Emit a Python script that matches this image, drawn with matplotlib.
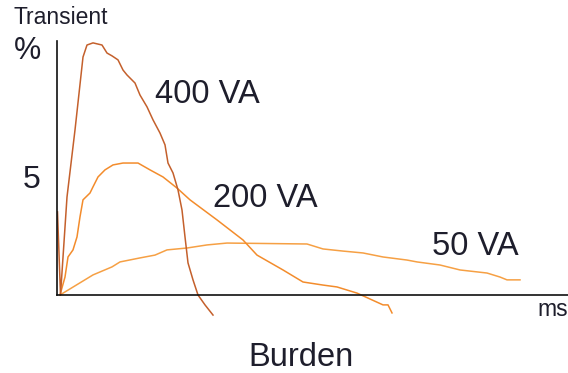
import matplotlib
matplotlib.use("Agg")
import matplotlib.pyplot as plt

plt.rcParams['font.family'] = ['Liberation Sans', 'DejaVu Sans']

# 400 VA curve (time in ms units, transient in %)
t400 = [-0.25, 0.05, 0.7, 1.5, 2.3, 2.7, 3.3, 4.2, 4.7, 5.2, 5.8, 6.3, 6.7, 7.5, 8.0, 8.7,
        9.3, 10.0, 10.5, 10.8, 11.3, 11.8, 12.2, 12.5, 12.8, 13.3, 13.8, 14.5, 15.3]
v400 = [3.52, 0.0, 4.15, 6.99, 10.08, 10.59, 10.68, 10.59, 10.25, 10.13, 9.96, 9.53, 9.32,
        8.98, 8.47, 7.97, 7.42, 6.86, 6.36, 5.59, 5.17, 4.45, 3.60, 2.46, 1.36, 0.64, 0.0,
        -0.42, -0.85]

# 200 VA curve
t200 = [0.0, 0.5, 0.8, 1.3, 1.7, 2.0, 2.3, 3.0, 3.3, 3.8, 4.5, 5.3, 6.3, 7.8, 9.0, 10.3,
        11.7, 13.0, 15.7, 18.3, 19.7, 22.3, 24.3, 26.3, 27.7, 29.7, 32.3, 32.8, 33.2]
v200 = [0.0, 0.76, 1.61, 1.91, 2.46, 3.31, 4.03, 4.32, 4.58, 5.0, 5.30, 5.51, 5.59, 5.59,
        5.30, 5.0, 4.53, 4.03, 3.18, 2.33, 1.69, 1.06, 0.55, 0.42, 0.34, 0.08, -0.42, -0.42,
        -0.76]

# 50 VA curve
t50 = [0.0, 3.3, 5.2, 6.0, 8.0, 9.5, 10.7, 12.7, 14.7, 16.7, 24.7, 26.3, 28.3, 30.3, 32.3,
       34.7, 35.7, 38.0, 40.0, 42.7, 44.0, 44.7, 46.0]
v50 = [0.0, 0.85, 1.19, 1.40, 1.57, 1.69, 1.91, 1.99, 2.12, 2.20, 2.16, 1.95, 1.86, 1.78,
       1.61, 1.48, 1.40, 1.27, 1.06, 0.93, 0.76, 0.64, 0.64]

labels = ["400 VA", "200 VA", "50 VA"]
y_ticks = [5]

fig = plt.figure(figsize=(5.68, 3.73), dpi=100)
ax = fig.add_axes([57/568, (373-320)/373, (568-57)/568, (320-41)/373])
ymax = 10.76
ax.set_xlim(-0.3, 50.8)
ax.set_ylim(-1.06, ymax)

ax.plot(t50, v50, color='#f6a044', lw=1.1, solid_joinstyle='round')
ax.plot(t200, v200, color='#f38c2c', lw=1.1, solid_joinstyle='round')
ax.plot(t400, v400, color='#c4602c', lw=1.1, solid_joinstyle='round')

for s in ['top', 'right']:
    ax.spines[s].set_visible(False)
ax.spines['bottom'].set_position(('data', 0))
ax.spines['left'].set_bounds(0, ymax)
ax.spines['left'].set_position(('data', -0.3))
for s in ['bottom', 'left']:
    ax.spines[s].set_linewidth(1.2)
    ax.spines[s].set_color('#111111')

txtc = '#1e1e2c'
ax.set_xticks([])
ax.set_yticks(y_ticks)
ax.set_yticklabels([str(v) for v in y_ticks], fontsize=23, color=txtc)
ax.tick_params(axis='y', length=0, pad=12)

ax.text(9.5, 8.5, labels[0], fontsize=23.5, color=txtc, va='center', ha='left')
ax.text(15.3, 4.1, labels[1], fontsize=23.5, color=txtc, va='center', ha='left')
ax.text(37.2, 2.05, labels[2], fontsize=23.5, color=txtc, va='center', ha='left')

fig.text(13/568, 1 - 17/373, "Transient", fontsize=16.5, color=txtc, va='center', ha='left')
fig.text(14/568, 1 - 51/373, "%", fontsize=22, color=txtc, va='center', ha='left')
fig.text(537/568, 1 - 310/373, "ms", fontsize=16.5, color=txtc, va='center', ha='left')
fig.text(301/568, 1 - 358/373, "Burden", fontsize=23.5, color=txtc, va='center', ha='center')

fig.savefig("out.png", dpi=100)
